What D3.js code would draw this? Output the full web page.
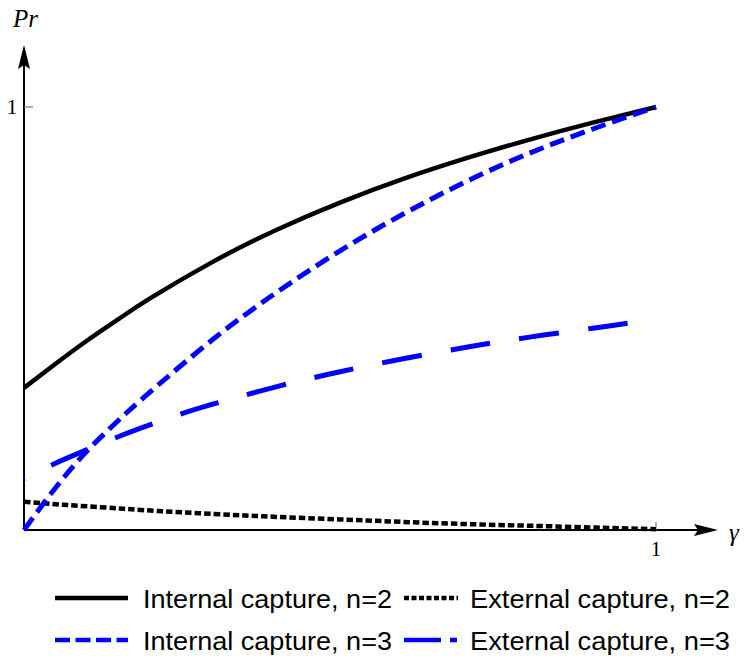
<!DOCTYPE html>
<html>
<head>
<meta charset="utf-8">
<script src="https://cdn.jsdelivr.net/npm/d3@7"></script>
<style>
  html, body { margin: 0; padding: 0; background: #fff; }
  svg { display: block; }
</style>
</head>
<body>
<svg id="chart" width="747" height="659"></svg>
<script>
// ---- data ----
const gamma = [0, 0.05, 0.1, 0.15, 0.2, 0.3, 0.4, 0.5, 0.6, 0.7, 0.8, 0.9, 1];
const internalN2 = [0.336, 0.393, 0.448, 0.499, 0.548, 0.635, 0.710, 0.774, 0.830, 0.879, 0.923, 0.963, 1.0];
const externalN2 = [0.067, 0.061, 0.056, 0.051, 0.046, 0.038, 0.031, 0.025, 0.019, 0.014, 0.010, 0.006, 0.002];
const internalN3 = [0.0, 0.100, 0.187, 0.260, 0.327, 0.452, 0.562, 0.660, 0.747, 0.824, 0.891, 0.948, 1.0];
const gammaExt3 = [0, 0.05, 0.1, 0.15, 0.2, 0.25, 0.3, 0.4, 0.5, 0.6, 0.7, 0.8, 0.9, 0.955];
const externalN3 = [0.122, 0.158, 0.190, 0.221, 0.249, 0.275, 0.298, 0.339, 0.374, 0.405, 0.432, 0.456, 0.477, 0.489];
const xTicks = [1];
const yTicks = [1];
const legendLabels = ["Internal capture, n=2", "External capture, n=2", "Internal capture, n=3", "External capture, n=3"];

// ---- layout ----
const svg = d3.select("#chart");
const x = d3.scaleLinear().domain([0, 1]).range([24, 656]);
const y = d3.scaleLinear().domain([0, 1]).range([530, 107]);

const series = [
  { g: gamma, v: internalN2, color: "#000", width: 4.5, dash: null, legDash: null },
  { g: gamma, v: externalN2, color: "#000", width: 4.5, dash: "6.5,3", legDash: "5,2.5" },
  { g: gamma, v: internalN3, color: "#0000ff", width: 5, dash: "15,7", legDash: "15,5.5" },
  { g: gammaExt3, v: externalN3, color: "#0000ff", width: 5, dash: "40,29.5", alignEnd: 40, period: 69.5, legDash: "37,9,7,200" }
];

const line = d3.line().x(d => x(d[0])).y(d => y(d[1])).curve(d3.curveNatural);

// axes
const axisG = svg.append("g");
axisG.append("line").attr("x1", x(0)).attr("x2", 700).attr("y1", y(0)).attr("y2", y(0))
  .attr("stroke", "#000").attr("stroke-width", 2);
axisG.append("line").attr("x1", x(0)).attr("x2", x(0)).attr("y1", y(0)).attr("y2", 62)
  .attr("stroke", "#000").attr("stroke-width", 2);
// arrowheads
axisG.append("path").attr("d", `M718,${y(0)} L694,${y(0) - 6} L698,${y(0)} L694,${y(0) + 6} Z`).attr("fill", "#000");
axisG.append("path").attr("d", `M${x(0)},45 L${x(0) - 6},69 L${x(0)},65 L${x(0) + 6},69 Z`).attr("fill", "#000");

// ticks
xTicks.forEach(t => {
  axisG.append("line").attr("x1", x(t)).attr("x2", x(t)).attr("y1", y(0) - 8).attr("y2", y(0))
    .attr("stroke", "#777").attr("stroke-width", 1.2);
  axisG.append("text").attr("x", x(t)).attr("y", 556).attr("text-anchor", "middle")
    .attr("font-family", "'Liberation Serif', 'DejaVu Serif', serif").attr("font-size", 21).text(t);
});
yTicks.forEach(t => {
  axisG.append("line").attr("x1", x(0)).attr("x2", x(0) + 9).attr("y1", y(t)).attr("y2", y(t))
    .attr("stroke", "#777").attr("stroke-width", 1.2);
  axisG.append("text").attr("x", 12).attr("y", y(t) + 7).attr("text-anchor", "middle")
    .attr("font-family", "'Liberation Serif', 'DejaVu Serif', serif").attr("font-size", 21).text(t);
});
// axis labels
svg.append("text").attr("x", 13).attr("y", 27)
  .attr("font-family", "'Liberation Serif', 'DejaVu Serif', serif").attr("font-style", "italic")
  .attr("font-size", 25).text("Pr");
svg.append("text").attr("x", 729).attr("y", 541)
  .attr("font-family", "'Liberation Serif', 'DejaVu Serif', serif").attr("font-style", "italic")
  .attr("font-size", 25).text("γ");

// curves
const plot = svg.append("g");
series.forEach(s => {
  const pts = s.g.map((g, i) => [g, s.v[i]]);
  const p = plot.append("path").attr("d", line(pts)).attr("fill", "none")
    .attr("stroke", s.color).attr("stroke-width", s.width);
  if (s.dash) p.attr("stroke-dasharray", s.dash);
  if (s.alignEnd) {
    const L = p.node().getTotalLength();
    const off = (((s.alignEnd - L) % s.period) + s.period) % s.period;
    p.attr("stroke-dashoffset", off);
  }
});

// legend
const legPos = [
  { lx: 55, lw: 73, tx: 143, cy: 598 },
  { lx: 404, lw: 54, tx: 470, cy: 598 },
  { lx: 55, lw: 73, tx: 143, cy: 640 },
  { lx: 404, lw: 54, tx: 470, cy: 640 }
];
const legTextLen = [249, 260, 249, 260];
const leg = svg.append("g");
series.forEach((s, i) => {
  const p = legPos[i];
  const l = leg.append("line").attr("x1", p.lx).attr("x2", p.lx + p.lw).attr("y1", p.cy).attr("y2", p.cy)
    .attr("stroke", s.color).attr("stroke-width", 4.5);
  if (s.legDash) l.attr("stroke-dasharray", s.legDash);
  leg.append("text").attr("x", p.tx).attr("y", p.cy + 9.5)
    .attr("font-family", "'Liberation Sans', Arial, sans-serif").attr("font-size", 26)
    .attr("textLength", legTextLen[i]).attr("lengthAdjust", "spacingAndGlyphs")
    .text(legendLabels[i]);
});
</script>
</body>
</html>
